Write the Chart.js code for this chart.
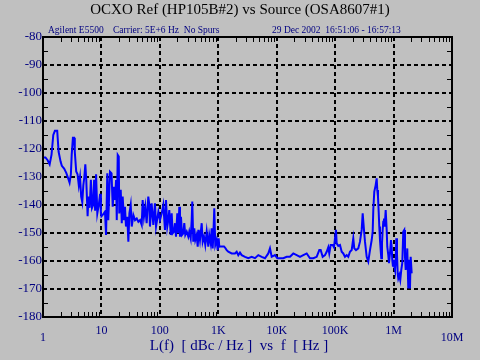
<!DOCTYPE html>
<html>
<head>
<meta charset="utf-8">
<script src="https://cdn.jsdelivr.net/npm/chart.js@4"></script>
<style>
  html, body { margin: 0; padding: 0; background: #c0c0c0; }
  canvas { display: block; }
</style>
</head>
<body>
<canvas id="chart" width="480" height="360"></canvas>
<script>
// Textes du graphique
const titleText = "OCXO Ref (HP105B#2) vs Source (OSA8607#1)";
const infoLeft = "Agilent E5500";
const infoMid = "Carrier: 5E+6 Hz  No Spurs";
const infoRight = "29 Dec 2002  16:51:06 - 16:57:13";
const xTitle = "L(f)  [ dBc / Hz ]  vs  f  [ Hz ]";

// Graduations
const xTickValues = [1, 10, 100, 1e3, 1e4, 1e5, 1e6, 1e7];
const xTickLabels = ["1", "10", "100", "1K", "10K", "100K", "1M", "10M"];
const yTickValues = [-80, -90, -100, -110, -120, -130, -140, -150, -160, -170, -180];

// Mesure : fréquence d'offset (Hz) et bruit de phase (dBc/Hz)
const freqHz = [
  1.0, 1.1, 1.2, 1.3, 1.4, 1.5, 1.6, 1.75, 1.85, 2.0,
  2.1, 2.3, 2.5, 2.7, 2.85, 3.0, 3.1, 3.25, 3.4, 3.5,
  3.7, 3.9, 4.1, 4.3, 4.5, 4.7, 4.9, 5.1, 5.3, 5.5,
  5.8, 6.0, 6.3, 6.6, 6.9, 7.2, 7.5, 7.8, 8.1, 8.5,
  9.0, 9.5, 9.8, 10.0, 10.5, 11.0,
  11.5, 12.0, 12.6, 13.1, 14.0, 14.9, 15.6, 16.4, 17.1, 17.8,
  18.3, 19.0, 19.8, 20.2, 21.4, 22.3, 23.1, 24.3, 25.3, 26.3,
  27.7, 28.9, 30.1, 31.7, 33.0, 35.2, 37.6, 40.2, 42.9, 45.8,
  48.9, 50.8, 53.4, 56.3, 59.4, 63.4, 66.1, 67.7, 72.3, 77.3,
  82.5, 86, 94.3,
  100.5, 107.5, 114.5, 122.4, 127.4, 134, 139.4, 145, 153.3, 159.4,
  165.8, 174.5, 181.6, 188.9, 198.8, 206.8, 215.1, 221.1, 230, 239.2,
  251.8, 261.9, 272.4, 288, 306.6, 318.9, 337.1, 350.6, 358.9, 373.4,
  388.4, 404, 427, 444.1, 461.9, 486.3, 520, 541, 569.2, 599.2,
  633.3, 674.6, 701.5, 741.3, 771.1, 802, 821.2, 854.2, 888.5, 938.9,
  976.8, 1016, 1040,
  1070, 1252, 1302, 1393, 1483, 1696, 1932, 2065, 2200, 2352,
  2516, 2865, 3263, 3730, 4250, 4840, 5534, 6300, 7177, 7669,
  8204, 9342, 10233, 11380, 12960, 14820, 16880, 19220, 21980, 25030,
  28500, 32590, 37100, 42260, 48300, 53550,
  56560, 61200, 67030, 71660, 76300, 79360, 83880, 90780, 95550, 99380,
  103400, 106200, 113200, 121000, 129400, 137800, 147400, 157600, 167800, 179400,
  191900, 204400, 212600, 227300, 248900, 266100, 284600, 296000, 311600, 324100,
  346500, 369000,
  394800, 422200, 439100, 449600, 467700, 494000, 513900, 526200, 541000, 556100,
  569400, 585300, 601700, 616000, 633300, 651000, 666600, 685300, 704400, 732700,
  762100, 780400, 811800, 834500, 868000, 902800, 928100, 950200, 976800, 1004000,
  1028000, 1057000, 1087000, 1113000, 1144000, 1176000, 1204000, 1252000, 1302000, 1355000,
  1409000, 1466000, 1525000, 1568000, 1612000, 1676000, 1716000, 1785000, 1857000, 1909000,
  1962000, 2041000
];
const dbcHz = [
  -123, -123, -124, -125.5, -122, -115, -113.5, -113.5, -121, -124.5,
  -126, -127, -128.5, -130.5, -132, -129, -122, -116, -116, -121,
  -128, -129, -133, -130, -137, -139, -133, -130, -125.5, -131,
  -144, -137, -141, -131, -141, -140, -131, -142, -129, -143,
  -140, -136, -143, -144, -143.5, -143,
  -142.4, -150.7, -128.7, -145.4, -128.1, -128.7, -140.6, -133.5, -138.2, -131.1,
  -145.4, -122.1, -122.7, -143, -134.6, -146.5, -137, -145.4, -140.6, -147.7,
  -144.2, -153.1, -143, -140, -147.7, -143.6, -145.4, -144.8, -146, -145.4,
  -147.1, -138.2, -144.2, -140.6, -146.5, -137, -140, -147.7, -139.4, -147.1,
  -139.4, -147.7, -142.4,
  -145.4, -143, -140, -148.9, -138.2, -147.7, -145.4, -141.8, -150.7, -143,
  -150.1, -149.5, -146.5, -151.3, -143, -150.1, -140.6, -151.3, -144.2, -150.7,
  -150.1, -146.5, -150.7, -149.5, -151.3, -149.5, -151.9, -145.4, -138.8, -153.1,
  -148.3, -152.5, -150.7, -154.9, -148.9, -152.5, -146.5, -153.1, -151.3, -154.3,
  -149.5, -154.9, -150.7, -153.7, -148.3, -155.5, -151.3, -141.2, -154.3, -152.5,
  -156.1, -151.9, -154.9,
  -154.8, -154.8, -155.2, -156.1, -156.7, -157.3, -157.3, -156.7, -157.9, -157,
  -157.9, -158.5, -159, -158.5, -159, -157.9, -158.5, -159, -157.3, -155.5,
  -158.5, -157.9, -159, -159, -159, -158.5, -158.5, -157.3, -157.9, -158.5,
  -157.9, -157.3, -159, -159, -158.5, -156.1,
  -156.1, -158.5, -157.9, -156.7, -155.1, -157.3, -154.3, -154.3, -155.1, -151.9,
  -148.9, -153.7, -154.6, -154.3, -156.7, -157.3, -158.5, -157.9, -158.5, -156.7,
  -156.1, -151.9, -155.5, -156.1, -155.5, -153.1, -148.9, -143, -148.9, -153.1,
  -158.5, -160.2,
  -156.1, -152.5, -149.5, -141.8, -135.2, -132.9, -130.5, -134.6, -137, -142.4,
  -147.7, -152.5, -156.1, -159, -153.7, -148.9, -146, -144.8, -147.7, -141.8,
  -148.9, -154.9, -157.9, -160.8, -157.3, -152.5, -154.9, -159.6, -162, -159.6,
  -162, -163.2, -160.2, -151.9, -157.3, -164.4, -166.2, -165, -166.8, -163.2,
  -160.8, -149.5, -148.9, -158.5, -163.2, -159.6, -155.5, -169.8, -159.6, -169.8,
  -158.5, -164.4
];

const navy = "#000080";
const serif = "'Liberation Serif', 'Times New Roman', serif";

// Cadre, petites graduations et textes
const decorPlugin = {
  id: "decor",
  afterDraw(chart) {
    const ctx = chart.ctx;
    const area = chart.chartArea;
    const xs = chart.scales.x;
    const ys = chart.scales.y;

    ctx.save();
    ctx.strokeStyle = "#000";
    ctx.lineWidth = 1;
    ctx.beginPath();
    // graduations mineures en x (2..9 par décade)
    for (let d = 1; d < 1e7; d *= 10) {
      for (let k = 2; k <= 9; k++) {
        const px = Math.round(xs.getPixelForValue(k * d)) + 0.5;
        ctx.moveTo(px, area.top);
        ctx.lineTo(px, area.top + 5);
        ctx.moveTo(px, area.bottom);
        ctx.lineTo(px, area.bottom - 5);
      }
    }
    // graduations mineures en y
    for (let v = -85; v > -180; v -= 10) {
      const py = Math.round(ys.getPixelForValue(v)) + 0.5;
      ctx.moveTo(area.left, py);
      ctx.lineTo(area.left + 5, py);
      ctx.moveTo(area.right, py);
      ctx.lineTo(area.right - 5, py);
    }
    ctx.stroke();

    ctx.lineWidth = 2;
    ctx.strokeRect(area.left, area.top, area.right - area.left, area.bottom - area.top);

    // étiquettes y
    ctx.fillStyle = navy;
    ctx.font = "13px " + serif;
    ctx.textAlign = "right";
    ctx.textBaseline = "middle";
    yTickValues.forEach(v => {
      ctx.fillText(String(v), area.left - 1, ys.getPixelForValue(v));
    });

    // étiquettes x
    ctx.font = "12px " + serif;
    ctx.textAlign = "center";
    xTickValues.forEach((v, i) => {
      const last = i === 0 || i === xTickValues.length - 1;
      ctx.fillText(xTickLabels[i], xs.getPixelForValue(v), last ? 338 : 331);
    });

    // titre de l'axe x
    ctx.font = "15px " + serif;
    ctx.fillText(xTitle, 239, 346);

    // titre et ligne d'info
    ctx.fillStyle = "#000";
    ctx.font = "15px " + serif;
    ctx.textBaseline = "alphabetic";
    ctx.fillText(titleText, 240, 14);

    ctx.fillStyle = navy;
    ctx.font = "9.5px " + serif;
    ctx.textAlign = "left";
    ctx.fillText(infoLeft, 48, 33);
    ctx.fillText(infoMid, 113, 33);
    ctx.fillText(infoRight, 272, 33);
    ctx.restore();
  }
};

const points = freqHz.map((f, i) => ({ x: f, y: dbcHz[i] }));

new Chart(document.getElementById("chart"), {
  type: "line",
  data: {
    datasets: [{
      data: points,
      borderColor: "#0000ff",
      borderWidth: 2,
      pointRadius: 0,
      tension: 0,
      fill: false
    }]
  },
  options: {
    responsive: false,
    animation: false,
    layout: { padding: { left: 43, right: 28, top: 37, bottom: 43 } },
    plugins: { legend: { display: false }, tooltip: { enabled: false } },
    scales: {
      x: {
        type: "logarithmic",
        min: 1,
        max: 1e7,
        afterBuildTicks: scale => { scale.ticks = xTickValues.map(v => ({ value: v })); },
        ticks: { display: false },
        grid: {
          color: c => (c.tick && (c.tick.value === 1 || c.tick.value === 1e7)) ? "rgba(0,0,0,0)" : "#000",
          lineWidth: 2,
          drawTicks: false
        },
        border: { display: false, dash: [4, 3] }
      },
      y: {
        type: "linear",
        min: -180,
        max: -80,
        afterBuildTicks: scale => { scale.ticks = yTickValues.map(v => ({ value: v })); },
        ticks: { display: false },
        grid: {
          color: c => (c.tick && (c.tick.value === -80 || c.tick.value === -180)) ? "rgba(0,0,0,0)" : "#000",
          lineWidth: 2,
          drawTicks: false
        },
        border: { display: false, dash: [4, 3] }
      }
    }
  },
  plugins: [decorPlugin]
});
</script>
</body>
</html>
